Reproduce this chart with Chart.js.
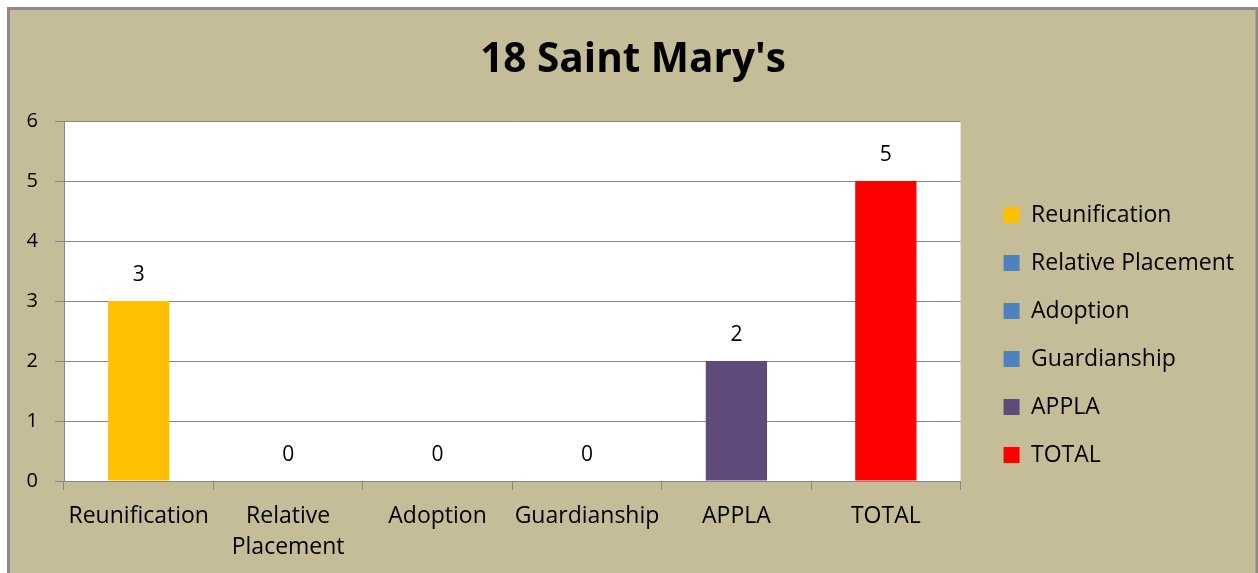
<!DOCTYPE html>
<html>
<head>
<meta charset="utf-8">
<script src="https://cdn.jsdelivr.net/npm/chart.js@4.4.0/dist/chart.umd.min.js"></script>
<style>
  html, body { margin: 0; padding: 0; background: #fff; }
  canvas { display: block; }
</style>
</head>
<body>
<canvas id="myChart" width="1258" height="573"></canvas>
<script>
// data
const categories = ['Reunification', 'Relative Placement', 'Adoption', 'Guardianship', 'APPLA', 'TOTAL'];
const counts = [3, 0, 0, 0, 2, 5];
const yTicks = [0, 1, 2, 3, 4, 5, 6];

const barColors = ['#FFC000', '#4F81BD', '#4F81BD', '#4F81BD', '#604A7B', '#FF0000'];
const tan = '#C4BD97';
const lineGray = '#868686';
const font = '"Open Sans", sans-serif';

// tan frame with a grey edge, white plot area
const frame = {
    id: 'frame',
    beforeDraw(chart) {
        const c = chart.ctx;
        const a = chart.chartArea;
        c.save();
        c.fillStyle = '#fff';
        c.fillRect(0, 0, chart.width, chart.height);
        c.fillStyle = tan;
        c.fillRect(8, 8, chart.width - 9, chart.height - 8);
        c.strokeStyle = '#8a8a8a';
        c.lineWidth = 3;
        c.beginPath();
        c.moveTo(8.5, chart.height);
        c.lineTo(8.5, 8.5);
        c.lineTo(chart.width - 1, 8.5);
        c.lineTo(chart.width - 1, chart.height);
        c.stroke();
        c.fillStyle = '#fff';
        c.fillRect(a.left, a.top, a.right - a.left, a.bottom - a.top);
        c.restore();
    }
};

// value above each bar
const valueLabels = {
    id: 'valueLabels',
    afterDatasetsDraw(chart) {
        const c = chart.ctx;
        const meta = chart.getDatasetMeta(0);
        c.save();
        c.fillStyle = '#000';
        c.font = '21px ' + font;
        c.textAlign = 'center';
        c.textBaseline = 'middle';
        meta.data.forEach((bar, i) => {
            c.fillText(String(counts[i]), bar.x, bar.y - 26);
        });
        c.restore();
    }
};

const ctx = document.getElementById('myChart');

const chart = new Chart(ctx, {
    type: 'bar',
    data: {
        labels: categories,
        datasets: [{
            data: counts,
            backgroundColor: barColors,
            borderWidth: 0,
            categoryPercentage: 1,
            barPercentage: 0.41
        }]
    },
    options: {
        responsive: false,
        animation: false,
        devicePixelRatio: 1,
        layout: { padding: { left: 22, right: 14, top: 0, bottom: 0 } },
        plugins: {
            title: {
                display: true,
                text: "18 Saint Mary's",
                color: '#000',
                font: { family: font, size: 40.5, weight: 'bold' },
                padding: { top: 36, bottom: 36.4 }
            },
            legend: {
                position: 'right',
                onClick: null,
                title: { display: true, text: '', font: { size: 1 }, padding: { top: 96, bottom: 0 } },
                labels: {
                    color: '#000',
                    font: { family: font, size: 23 },
                    boxWidth: 16,
                    boxHeight: 16,
                    padding: 25,
                    generateLabels: () => categories.map((name, i) => ({
                        text: name,
                        fillStyle: barColors[i],
                        strokeStyle: barColors[i],
                        fontColor: '#000',
                        lineWidth: 0,
                        hidden: false,
                        index: i
                    }))
                }
            },
            tooltip: { enabled: false }
        },
        scales: {
            x: {
                grid: { display: true, drawOnChartArea: false, color: lineGray, tickLength: 9 },
                border: { color: lineGray },
                ticks: {
                    color: '#000',
                    font: { family: font, size: 23, lineHeight: 1.35 },
                    padding: 11,
                    maxRotation: 0,
                    autoSkip: false,
                    callback: function (value) {
                        return this.getLabelForValue(value).split(' ');
                    }
                },
                afterFit: s => { s.height = 92; }
            },
            y: {
                min: yTicks[0],
                max: yTicks[yTicks.length - 1],
                grid: { color: lineGray, tickLength: 9 },
                border: { color: lineGray },
                ticks: {
                    stepSize: 1,
                    color: '#000',
                    font: { family: font, size: 20 },
                    padding: 17
                },
                afterFit: s => { s.width = 42; }
            },
            gap: {
                type: 'linear',
                position: 'right',
                display: false,
                afterFit: s => { s.width = 18; }
            }
        }
    },
    plugins: [frame, valueLabels]
});
</script>
</body>
</html>
